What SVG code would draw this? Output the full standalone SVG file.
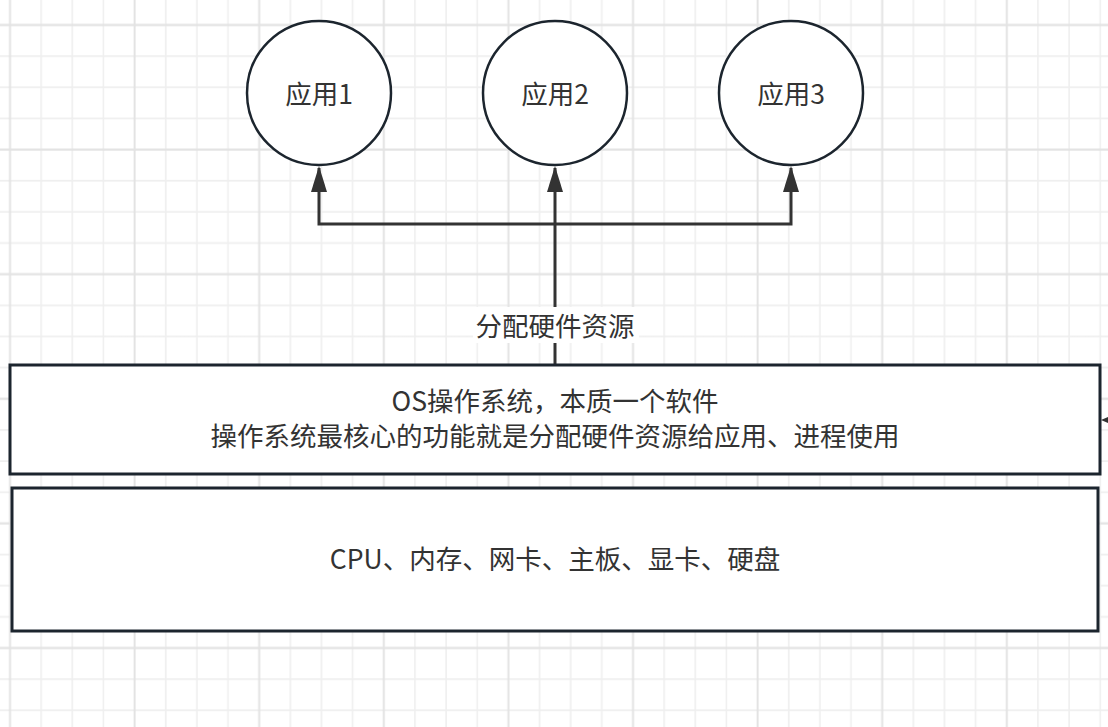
<svg xmlns="http://www.w3.org/2000/svg" width="1108" height="727" viewBox="0 0 1108 727">
  <defs>
    <pattern id="grid" patternUnits="userSpaceOnUse" x="-5.575" y="9.425" width="124.6" height="124.6">
      <path d="M46.725,0 V124.6 M77.875,0 V124.6 M109.025,0 V124.6 M0,46.725 H124.6 M0,77.875 H124.6 M0,109.025 H124.6" stroke="#efefef" stroke-width="1.6" fill="none"/>
      <path d="M15.575,0 V124.6 M0,15.575 H124.6" stroke="#e3e3e3" stroke-width="2" fill="none"/>
    </pattern>
    <marker id="arrow" markerUnits="userSpaceOnUse" markerWidth="26" markerHeight="16" refX="24" refY="8" orient="auto" viewBox="0 0 26 16">
      <path d="M0,0 L26,8 L0,16 Z" fill="#333333"/>
    </marker>
    <style>
      .app { fill: #ffffff; stroke: #1c252e; stroke-width: 2.5; }
      .box { fill: #ffffff; stroke: #1c252e; stroke-width: 3; }
      .txt { font-family: "Noto Sans CJK SC", "Noto Sans", sans-serif; font-size: 26.5px; fill: #333333; text-anchor: middle; }
      .conn { fill: none; stroke: #333333; stroke-width: 3; }
    </style>
  </defs>
  <rect x="0" y="0" width="1108" height="727" fill="#ffffff"/>
  <rect x="0" y="0" width="1108" height="727" fill="url(#grid)"/>

  <g id="connectors">
    <path class="conn" d="M555,365 V168" marker-end="url(#arrow)"/>
    <path class="conn" d="M555,224 H319 V168" marker-end="url(#arrow)"/>
    <path class="conn" d="M555,224 H791 V168" marker-end="url(#arrow)"/>
    <path d="M1101,420 L1110,416 L1110,424 Z" fill="#333333"/>
    <rect x="473" y="307" width="166" height="36" fill="#ffffff"/>
    <text class="txt" x="555" y="336">分配硬件资源</text>
  </g>

  <g id="app1">
    <circle class="app" cx="319" cy="93" r="72"/>
    <text class="txt" x="319" y="104">应用1</text>
  </g>
  <g id="app2">
    <circle class="app" cx="555" cy="93" r="72"/>
    <text class="txt" x="555" y="104">应用2</text>
  </g>
  <g id="app3">
    <circle class="app" cx="791" cy="93" r="72"/>
    <text class="txt" x="791" y="104">应用3</text>
  </g>

  <g id="os">
    <rect class="box" x="10" y="365" width="1090" height="109"/>
    <text class="txt" x="555" y="411">OS操作系统，本质一个软件</text>
    <text class="txt" x="555" y="446">操作系统最核心的功能就是分配硬件资源给应用、进程使用</text>
  </g>

  <g id="hardware">
    <rect class="box" x="12" y="488" width="1086" height="143"/>
    <text class="txt" x="555" y="569">CPU、内存、网卡、主板、显卡、硬盘</text>
  </g>
</svg>
